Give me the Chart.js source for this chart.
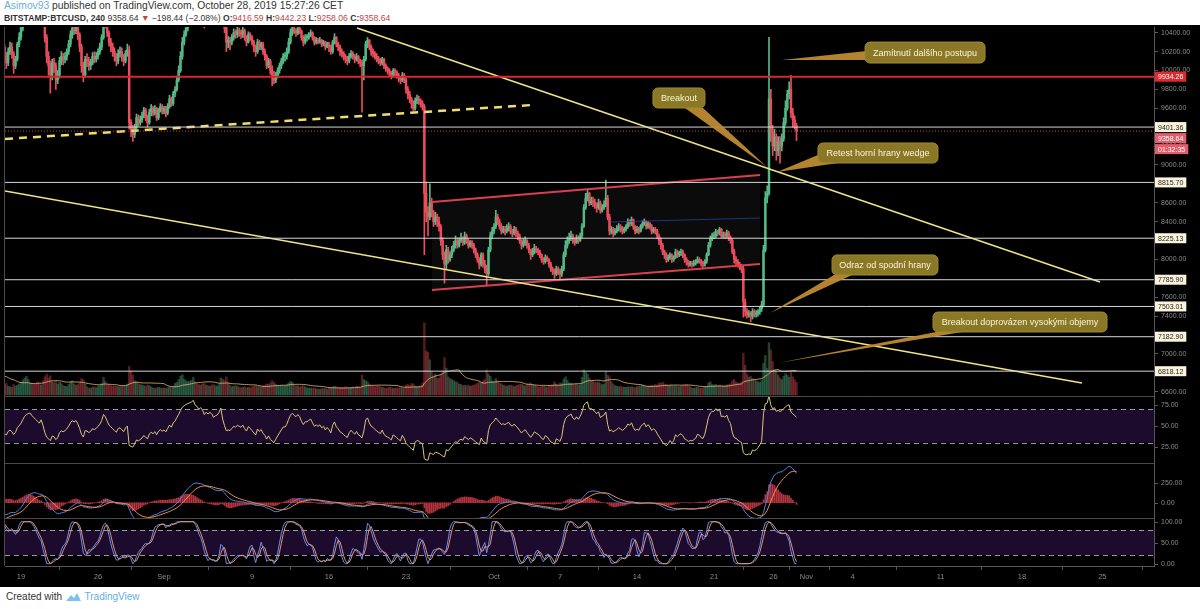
<!DOCTYPE html>
<html>
<head>
<meta charset="utf-8">
<title>BITSTAMP:BTCUSD 240</title>
<script src="https://cdn.jsdelivr.net/npm/chart.js@4.4.0/dist/chart.umd.min.js"></script>
<style>
  html, body { margin: 0; padding: 0; background: #fff; }
  body { width: 1200px; height: 609px; position: relative; overflow: hidden; font-family: "Liberation Sans", Arial, sans-serif; }
  #hdr { position: absolute; left: 4px; top: 0px; color: #333; white-space: nowrap; }
  #hdr .l1 { font-size: 10.3px; line-height: 12px; }
  #hdr .l2 { font-size: 8.6px; line-height: 12px; }
  #hdr .user { color: #6aaee0; }
  #hdr .red { color: #c0463f; }
  #wrap { position: absolute; left: 0; top: 25px; width: 1200px; height: 562px; }
  #ftr { position: absolute; left: 6px; top: 591px; font-size: 10px; color: #333; white-space: nowrap; }
  #ftr .tv { color: #5fb0e6; }
  #ftr svg { vertical-align: -2px; }
</style>
</head>
<body>
<div id="hdr">
  <div class="l1"><span class="user">Asimov93</span> published on TradingView.com, October 28, 2019 15:27:26 CET</div>
  <div class="l2"><b>BITSTAMP:BTCUSD, 240</b> 9358.64 <span class="red">&#9660;</span> &minus;198.44 (&minus;2.08%) <b>O:</b><span class="red">9416.59</span> <b>H:</b><span class="red">9442.23</span> <b>L:</b><span class="red">9258.06</span> <b>C:</b><span class="red">9358.64</span></div>
</div>
<div id="wrap"><canvas id="chart" width="1200" height="562"></canvas></div>
<div id="ftr">Created with <svg width="17" height="10" viewBox="0 0 17 10"><path d="M1 9 L6 3 L9 6 L12 1 L16 9 Z" fill="#7cc4ee"/></svg> <span class="tv">TradingView</span></div>

<script>
// 4h candles, first one opens Aug 12 2019 00:00 UTC (day 11 counted from Aug 1)
const startDay = 11;
const firstOpen = 11350;

const closes = [
  11380, 11420, 11350, 11300, 11330, 11390, // Aug 12
  11250, 11100, 10980, 10850, 10900, 10780,
  10700, 10620, 10500, 10300, 10150, 10050,
  10100, 9900, 9650, 9950, 10150, 10300,
  10200, 10050, 9900, 10250, 10400, 10350,
  10300, 10380, 10250, 10150, 10080, 10200, // Aug 17
  10250, 10180, 10050, 10120, 10280, 10350,
  10450, 10600, 10750, 10850, 10900, 10920,
  10850, 10800, 10750, 10700, 10650, 10760,
  10600, 10350, 10150, 10050, 9950, 10080,
  10050, 9900, 9950, 10100, 10150, 10120, // Aug 22
  10150, 10200, 10280, 10380, 10450, 10420,
  10460, 10380, 10250, 10050, 9950, 10120,
  10100, 10050, 10080, 10150, 10120, 10150,
  10200, 10250, 10350, 10550, 10500, 10400,
  10300, 10250, 10200, 10150, 10100, 10180, // Aug 27
  10200, 10150, 10100, 10180, 10220, 9450,
  9380, 9320, 9400, 9500, 9450, 9480,
  9520, 9580, 9500, 9450, 9560, 9600,
  9550, 9600, 9500, 9580, 9620, 9570,
  9600, 9550, 9620, 9700, 9650, 9750, // Sep 1
  9800, 9900, 10000, 10150, 10300, 10380,
  10450, 10500, 10550, 10600, 10700, 10620,
  10600, 10550, 10620, 10580, 10500, 10580,
  10550, 10600, 10580, 10520, 10560, 10580,
  10650, 10800, 10600, 10450, 10300, 10320, // Sep 6
  10300, 10350, 10400, 10380, 10420, 10400,
  10380, 10420, 10350, 10300, 10380, 10350,
  10300, 10250, 10200, 10300, 10250, 10280,
  10200, 10150, 10050, 10100, 10000, 9950,
  9900, 9950, 10000, 10050, 10100, 10150, // Sep 11
  10150, 10200, 10300, 10400, 10450, 10420,
  10400, 10450, 10420, 10350, 10300, 10350,
  10350, 10380, 10400, 10350, 10300, 10320,
  10300, 10320, 10280, 10300, 10250, 10280,
  10250, 10200, 10300, 10350, 10280, 10250, // Sep 16
  10200, 10180, 10150, 10120, 10100, 10150,
  10180, 10150, 10120, 10150, 10100, 10080,
  10050, 10120, 10280, 10320, 10250, 10200,
  10180, 10150, 10120, 10100, 10080, 10120,
  10050, 10020, 10000, 9980, 9950, 10000, // Sep 21
  9980, 9950, 9920, 9900, 9950, 9900,
  9800, 9750, 9700, 9650, 9600, 9680,
  9700, 9680, 9650, 9620, 8700, 8500,
  8450, 8600, 8500, 8400, 8450, 8400,
  8350, 8200, 8050, 7950, 8100, 8000, // Sep 26
  8050, 8100, 8150, 8200, 8150, 8200,
  8220, 8180, 8250, 8200, 8150, 8180,
  8150, 8100, 8050, 8000, 7950, 8050,
  7950, 7900, 7850, 8100, 8250, 8300,
  8350, 8450, 8400, 8350, 8300, 8320, // Oct 1
  8300, 8330, 8350, 8300, 8280, 8320,
  8280, 8250, 8200, 8150, 8180, 8200,
  8150, 8100, 8050, 8080, 8120, 8100,
  8080, 8050, 8000, 7980, 8020, 8000,
  7950, 7900, 7880, 7850, 7900, 7880, // Oct 6
  7850, 7900, 8050, 8150, 8200, 8220,
  8250, 8200, 8180, 8230, 8200, 8250,
  8350, 8550, 8650, 8700, 8600, 8620,
  8600, 8580, 8550, 8600, 8520, 8550,
  8580, 8650, 8450, 8300, 8320, 8280, // Oct 11
  8300, 8320, 8350, 8330, 8300, 8320,
  8350, 8400, 8380, 8420, 8350, 8300,
  8320, 8300, 8350, 8380, 8400, 8350,
  8380, 8350, 8300, 8320, 8300, 8250,
  8200, 8150, 8080, 8050, 8000, 8020, // Oct 16
  8050, 8000, 8020, 8080, 8050, 8070,
  8080, 8050, 8000, 7980, 7950, 7960,
  7950, 7960, 7970, 8000, 7990, 7960,
  7950, 7980, 8050, 8150, 8220, 8250,
  8250, 8300, 8280, 8320, 8250, 8260, // Oct 21
  8250, 8280, 8230, 8200, 8080, 8000,
  7980, 7950, 7920, 7900, 7550, 7450,
  7420, 7430, 7400, 7450, 7420, 7430,
  7450, 7480, 7520, 8100, 8650, 8700,
  9700, 9350, 9200, 9300, 9150, 9250, // Oct 26
  9200, 9280, 9450, 9600, 9750, 9800,
  9550, 9480, 9416.59, 9358.64
];

const highs = [
  11420, 11470, 11440, 11380, 11370, 11430,
  11410, 11280, 11130, 11010, 10950, 10930,
  10820, 10740, 10660, 10530, 10330, 10180,
  10150, 10120, 9930, 9990, 10200, 10350,
  10360, 10230, 10080, 10290, 10460, 10450,
  10400, 10420, 10410, 10280, 10190, 10240,
  10300, 10290, 10200, 10150, 10300, 10400,
  10480, 10650, 10800, 10950, 10960, 10960,
  10960, 10900, 10850, 10790, 10740, 10800,
  10780, 10620, 10380, 10200, 10100, 10120,
  10130, 10080, 10000, 10140, 10200, 10180,
  10190, 10230, 10320, 10420, 10490, 10480,
  10510, 10490, 10400, 10280, 10090, 10150,
  10180, 10140, 10120, 10190, 10200, 10190,
  10230, 10290, 10380, 10620, 10600, 10540,
  10420, 10340, 10290, 10240, 10180, 10220,
  10250, 10240, 10170, 10210, 10280, 10260,
  9480, 9420, 9430, 9540, 9530, 9520,
  9560, 9610, 9600, 9530, 9590, 9640,
  9620, 9630, 9610, 9600, 9650, 9640,
  9620, 9620, 9650, 9740, 9720, 9780,
  9830, 9940, 10050, 10200, 10350, 10420,
  10480, 10540, 10600, 10650, 10780, 10730,
  10680, 10640, 10650, 10640, 10600, 10600,
  10610, 10630, 10620, 10590, 10600, 10610,
  10690, 10900, 10820, 10640, 10480, 10360,
  10350, 10380, 10440, 10430, 10460, 10450,
  10430, 10460, 10440, 10370, 10410, 10400,
  10370, 10320, 10270, 10330, 10320, 10300,
  10300, 10230, 10170, 10130, 10120, 10050,
  9990, 9980, 10030, 10080, 10130, 10180,
  10190, 10240, 10340, 10440, 10480, 10470,
  10440, 10480, 10470, 10430, 10370, 10380,
  10380, 10400, 10430, 10410, 10360, 10350,
  10340, 10350, 10330, 10320, 10310, 10300,
  10300, 10270, 10320, 10390, 10360, 10300,
  10270, 10230, 10200, 10170, 10150, 10180,
  10210, 10200, 10170, 10180, 10160, 10120,
  10110, 10150, 10310, 10350, 10330, 10270,
  10230, 10200, 10180, 10150, 10130, 10140,
  10130, 10070, 10040, 10020, 9990, 10020,
  10020, 10000, 9970, 9940, 9980, 9970,
  9920, 9830, 9780, 9720, 9680, 9710,
  9740, 9730, 9700, 9680, 9640, 8820,
  8560, 8800, 8650, 8520, 8500, 8480,
  8450, 8370, 8230, 8080, 8150, 8130,
  8080, 8140, 8190, 8250, 8230, 8230,
  8280, 8240, 8290, 8270, 8220, 8200,
  8200, 8170, 8120, 8070, 8020, 8070,
  8070, 7990, 7940, 8130, 8290, 8340,
  8380, 8520, 8480, 8430, 8380, 8350,
  8350, 8370, 8390, 8370, 8320, 8350,
  8340, 8300, 8270, 8210, 8220, 8240,
  8210, 8170, 8110, 8120, 8160, 8140,
  8120, 8100, 8060, 8020, 8050, 8040,
  8010, 7970, 7920, 7900, 7930, 7920,
  7900, 7930, 8080, 8200, 8240, 8280,
  8300, 8270, 8230, 8260, 8250, 8280,
  8380, 8580, 8700, 8740, 8710, 8660,
  8660, 8640, 8600, 8640, 8620, 8580,
  8620, 8840, 8680, 8480, 8350, 8340,
  8330, 8360, 8380, 8370, 8350, 8340,
  8370, 8430, 8420, 8450, 8430, 8360,
  8350, 8340, 8370, 8410, 8430, 8410,
  8400, 8390, 8370, 8340, 8340, 8320,
  8270, 8230, 8170, 8100, 8070, 8050,
  8070, 8060, 8040, 8110, 8100, 8090,
  8110, 8100, 8060, 8020, 7990, 7980,
  7980, 7990, 8000, 8030, 8020, 8000,
  7980, 8000, 8070, 8180, 8250, 8280,
  8290, 8320, 8310, 8340, 8330, 8290,
  8290, 8310, 8300, 8250, 8220, 8110,
  8030, 8000, 7970, 7950, 7930, 7580,
  7480, 7460, 7450, 7480, 7470, 7460,
  7470, 7500, 7560, 8150, 8720, 8780,
  10350, 9800, 9420, 9380, 9330, 9300,
  9300, 9330, 9500, 9680, 9790, 9880,
  9950, 9600, 9520, 9442.23
];

const lows = [
  11320, 11350, 11320, 11260, 11270, 11310,
  11220, 11060, 10940, 10800, 10820, 10740,
  10660, 10580, 10460, 10250, 10100, 9980,
  9990, 9850, 9480, 9620, 9920, 10120,
  10160, 10000, 9800, 9880, 10220, 10300,
  10260, 10280, 10220, 10100, 10020, 10050,
  10170, 10130, 9970, 10020, 10100, 10250,
  10320, 10420, 10570, 10700, 10800, 10850,
  10800, 10740, 10680, 10630, 10580, 10620,
  10560, 10300, 10080, 9950, 9760, 9900,
  9980, 9800, 9860, 9920, 10060, 10060,
  10080, 10110, 10170, 10250, 10340, 10380,
  10390, 10330, 10200, 9980, 9880, 9930,
  10040, 10000, 10010, 10060, 10080, 10090,
  10120, 10170, 10220, 10330, 10450, 10360,
  10260, 10200, 10150, 10100, 10050, 10070,
  10140, 10100, 10050, 10080, 10150, 9380,
  9300, 9250, 9290, 9380, 9410, 9420,
  9450, 9500, 9470, 9400, 9430, 9520,
  9520, 9530, 9470, 9480, 9560, 9540,
  9540, 9510, 9530, 9600, 9620, 9630,
  9720, 9780, 9880, 9980, 10120, 10270,
  10360, 10420, 10470, 10510, 10570, 10580,
  10560, 10490, 10520, 10540, 10450, 10470,
  10500, 10530, 10540, 10470, 10500, 10520,
  10560, 10620, 10560, 10400, 10200, 10240,
  10220, 10270, 10320, 10340, 10350, 10360,
  10340, 10350, 10320, 10260, 10290, 10320,
  10270, 10200, 10150, 10180, 10220, 10220,
  10170, 10110, 10020, 10030, 9960, 9840,
  9860, 9870, 9920, 9970, 10020, 10070,
  10100, 10120, 10180, 10280, 10370, 10390,
  10360, 10380, 10390, 10320, 10260, 10280,
  10310, 10330, 10360, 10320, 10270, 10280,
  10280, 10290, 10250, 10260, 10220, 10240,
  10200, 10170, 10180, 10280, 10250, 10210,
  10160, 10140, 10110, 10080, 10060, 10080,
  10130, 10120, 10080, 10100, 10070, 10040,
  9560, 9900, 10100, 10240, 10220, 10160,
  10140, 10120, 10090, 10070, 10050, 10060,
  10020, 9990, 9960, 9940, 9910, 9930,
  9940, 9920, 9880, 9860, 9880, 9870,
  9760, 9700, 9660, 9600, 9570, 9580,
  9650, 9640, 9610, 9580, 8050, 8400,
  8250, 8420, 8450, 8350, 8370, 8350,
  8300, 8150, 8000, 7750, 7900, 7960,
  7980, 8020, 8080, 8120, 8120, 8130,
  8180, 8150, 8160, 8170, 8120, 8130,
  8120, 8070, 8020, 7970, 7900, 7930,
  7920, 7860, 7730, 7830, 8080, 8220,
  8270, 8330, 8370, 8320, 8270, 8280,
  8260, 8280, 8300, 8270, 8240, 8260,
  8240, 8210, 8170, 8110, 8130, 8150,
  8120, 8070, 8000, 8030, 8060, 8070,
  8050, 8020, 7970, 7950, 7960, 7980,
  7920, 7870, 7840, 7800, 7830, 7840,
  7790, 7820, 7880, 8030, 8120, 8170,
  8200, 8170, 8150, 8170, 8170, 8190,
  8230, 8340, 8530, 8620, 8570, 8580,
  8560, 8540, 8500, 8530, 8490, 8500,
  8530, 8560, 8420, 8260, 8270, 8240,
  8260, 8280, 8300, 8290, 8270, 8280,
  8300, 8330, 8350, 8360, 8320, 8270,
  8280, 8270, 8290, 8330, 8360, 8320,
  8330, 8320, 8270, 8280, 8270, 8220,
  8160, 8110, 8050, 8010, 7970, 7980,
  8000, 7970, 7980, 8010, 8020, 8030,
  8040, 8020, 7970, 7940, 7920, 7930,
  7920, 7930, 7940, 7960, 7960, 7930,
  7900, 7930, 7960, 8040, 8130, 8200,
  8220, 8230, 8250, 8260, 8230, 8230,
  8220, 8230, 8200, 8170, 8060, 7960,
  7940, 7920, 7890, 7860, 7390, 7400,
  7380, 7390, 7340, 7370, 7390, 7390,
  7400, 7420, 7450, 7500, 8080, 8600,
  8680, 9250, 9100, 9150, 9050, 9100,
  9020, 9150, 9250, 9420, 9580, 9700,
  9500, 9400, 9380, 9258.06
];

// volume per 4h bar, BTC
const volumes = [
  2100, 1800, 1600, 2200, 2400, 1900,
  2300, 2600, 2800, 3100, 2400, 2200,
  2500, 2700, 3200, 4800, 5200, 4100,
  3500, 4200, 5600, 4400, 3600, 3100,
  3300, 2900, 3800, 3400, 3000, 2400,
  2000, 1700, 1500, 1900, 2100, 1600,
  1500, 1400, 1900, 1600, 1800, 2000,
  2300, 2700, 3100, 3400, 2800, 2200,
  2100, 1900, 2000, 2400, 2200, 1800,
  2600, 3300, 3800, 3100, 3500, 2400,
  2200, 2500, 2000, 2300, 2100, 1700,
  1600, 1500, 1900, 2400, 2600, 2000,
  1800, 1900, 2300, 3000, 2800, 2000,
  1500, 1300, 1200, 1400, 1500, 1300,
  1600, 1700, 2100, 3200, 2500, 1900,
  1800, 1700, 1600, 1700, 1600, 1500,
  1500, 1600, 1700, 1600, 2000, 5200,
  4300, 3600, 2600, 2400, 2100, 1900,
  1800, 1700, 1600, 1800, 1700, 1500,
  1300, 1200, 1300, 1400, 1300, 1200,
  1300, 1200, 1300, 1500, 1400, 1600,
  2100, 2300, 2800, 3400, 3700, 2900,
  2600, 2400, 2500, 2700, 3200, 2400,
  2000, 1900, 1800, 2000, 2100, 1800,
  1700, 1600, 1800, 1900, 1700, 1600,
  1900, 3100, 2900, 2600, 3300, 2200,
  1800, 1500, 1600, 1700, 1600, 1400,
  1300, 1400, 1500, 1300, 1400, 1300,
  1500, 1600, 1700, 1500, 1600, 1400,
  1700, 1800, 2000, 1900, 2200, 2600,
  2300, 1900, 1800, 1700, 1800, 1600,
  1700, 1800, 2200, 2500, 2300, 1800,
  1600, 1700, 1500, 1600, 1700, 1500,
  1300, 1200, 1300, 1200, 1300, 1100,
  1100, 1000, 1200, 1100, 1200, 1000,
  1300, 1400, 1500, 1600, 1500, 1300,
  1400, 1300, 1400, 1500, 1400, 1300,
  1400, 1500, 1400, 1600, 1500, 1400,
  3600, 2800, 2600, 2400, 2000, 1700,
  1600, 1500, 1600, 1700, 1500, 1400,
  1300, 1200, 1300, 1400, 1300, 1200,
  1200, 1300, 1200, 1400, 1300, 1200,
  1800, 1900, 1700, 2100, 2000, 1600,
  1500, 1600, 1700, 2200, 13100, 8000,
  7800, 6400, 4200, 3500, 3800, 3000,
  3100, 3600, 4400, 6800, 4900, 3300,
  3000, 2800, 2600, 2400, 2300, 2000,
  1900, 1700, 1800, 1700, 1800, 1600,
  1700, 1800, 1900, 2100, 2400, 2200,
  2600, 2800, 4600, 3800, 3400, 2600,
  2400, 3000, 2600, 2200, 2000, 1800,
  1700, 1600, 1700, 1800, 1700, 1500,
  1700, 1800, 1900, 2000, 1800, 1600,
  1900, 2000, 2200, 1900, 1800, 1600,
  1500, 1400, 1600, 1700, 1500, 1400,
  1600, 1700, 1900, 2400, 2000, 1800,
  2200, 2100, 2900, 3300, 2700, 2200,
  2100, 2000, 1900, 2000, 1800, 1900,
  3200, 4600, 4200, 3800, 3100, 2600,
  2500, 2300, 2200, 2400, 2100, 1900,
  2000, 4200, 3600, 3300, 2400, 2000,
  1700, 1600, 1500, 1600, 1500, 1400,
  1400, 1500, 1400, 1500, 1400, 1300,
  1500, 1600, 1700, 1800, 1700, 1500,
  1600, 1700, 1800, 1700, 1900, 1800,
  2200, 2100, 2300, 2000, 1900, 1700,
  1800, 1700, 1600, 1700, 1600, 1500,
  1600, 1700, 1800, 1900, 1700, 1500,
  1300, 1200, 1300, 1400, 1300, 1200,
  1300, 1400, 1600, 2200, 2400, 1900,
  1800, 1900, 1700, 1800, 1700, 1600,
  1700, 1800, 1900, 2000, 2600, 2800,
  2300, 2200, 2100, 2400, 7600, 5400,
  3800, 3200, 3400, 3000, 2800, 2600,
  2400, 2300, 2600, 5800, 7200, 4800,
  9500, 8200, 6100, 4600, 4200, 3600,
  3100, 2800, 3400, 3900, 3600, 3200,
  4100, 3300, 2800, 2300
];

// x axis labels (day counted from Aug 1) and price axis ticks
const xTickDays = [18, 25, 31, 39, 46, 53, 61, 67, 74, 81, 86.4, 89.4, 93.6, 101.6, 109, 116.3];
const xTickLabels = ['19', '26', 'Sep', '9', '16', '23', 'Oct', '7', '14', '21', '26', 'Nov', '4', '11', '18', '25'];
const priceTicks = [10400, 10200, 10000, 9800, 9600, 9400, 9200, 9000, 8800, 8600, 8400, 8200, 8000, 7800, 7600, 7400, 7200, 7000, 6800, 6600];
const rsiTicks = [75, 50, 25];
const macdTicks = [250, 0];
const stochTicks = [100, 50, 0];

// drawings: horizontal levels and trend lines (day, price)
const resistanceLevel = 9934.26;
const levels = [9401.36, 8815.70, 8225.13, 7785.90, 7503.01, 7182.90, 6818.12];
const wedgeTop = [[48.55, 10450], [116.09, 7762]];
const wedgeBottom = [[16.545, 8725], [114.45, 6693]];
const dashedSupport = [[16.545, 9275], [64.45, 9635]];
const channelTop = [[55.36, 8608], [85.18, 8894]];
const channelBottom = [[55.36, 7677], [85.18, 7952]];
const channelMid = [[71.55, 8397], [85.18, 8439]];

const callouts = [
  { text: 'Zamítnutí dalšího postupu', box: [94.73, 10301, 105.64, 10079], tip: [87.18, 10111], base: [[95.73, 10217], [95.73, 10111]] },
  { text: 'Breakout', box: [75.45, 9815, 80.18, 9603], tip: [85.82, 8979], base: [[78.36, 9603], [80.0, 9603]] },
  { text: 'Retest horní hrany wedge', box: [90.45, 9233, 101.36, 9021], tip: [86.73, 8926], base: [[90.45, 9106], [92.27, 9021]] },
  { text: 'Odraz od spodní hrany', box: [91.73, 8048, 101.36, 7836], tip: [86.09, 7434], base: [[91.91, 7836], [93.55, 7836]] },
  { text: 'Breakout doprovázen vysokými objemy', box: [100.91, 7444, 116.73, 7233], tip: [86.82, 6905], base: [[101.18, 7233], [103.55, 7233]] }
];

const axisBadges = [
  { value: 9934.26, text: '9934.26', bg: '#e0282e', fg: '#fff', dy: 0 },
  { value: 9401.36, text: '9401.36', bg: '#fbf3dc', fg: '#222', dy: 0 },
  { value: 9358.64, text: '9358.64', bg: '#e35d6a', fg: '#fff', dy: 7 },
  { value: 9358.64, text: '01:32:35', bg: '#e35d6a', fg: '#fff', dy: 18 },
  { value: 8815.70, text: '8815.70', bg: '#fbf3dc', fg: '#222', dy: 0 },
  { value: 8225.13, text: '8225.13', bg: '#fbf3dc', fg: '#222', dy: 0 },
  { value: 7785.90, text: '7785.90', bg: '#fbf3dc', fg: '#222', dy: 0 },
  { value: 7503.01, text: '7503.01', bg: '#fbf3dc', fg: '#222', dy: 0 },
  { value: 7182.90, text: '7182.90', bg: '#fbf3dc', fg: '#222', dy: 0 },
  { value: 6818.12, text: '6818.12', bg: '#fbf3dc', fg: '#222', dy: 0 }
];

// Colors
const UP = '#53b987';
const DOWN = '#eb4d5c';
const YELLOW = '#efe486';

// Indicators
function ema(src, len) {
  const k = 2 / (len + 1);
  let prev = src[0];
  return src.map((v, i) => (prev = i === 0 ? v : v * k + prev * (1 - k)));
}

function sma(src, len) {
  return src.map((v, i) => {
    if (i < len - 1) return null;
    let s = 0;
    for (let j = i - len + 1; j <= i; j++) {
      if (src[j] === null) return null;
      s += src[j];
    }
    return s / len;
  });
}

function rsiOf(src, len) {
  const out = src.map(() => null);
  let g = 0, l = 0;
  for (let i = 1; i < src.length; i++) {
    const ch = src[i] - src[i - 1];
    const up = Math.max(ch, 0), dn = Math.max(-ch, 0);
    if (i <= len) { g += up / len; l += dn / len; }
    else { g = (g * (len - 1) + up) / len; l = (l * (len - 1) + dn) / len; }
    if (i >= len) out[i] = l === 0 ? 100 : 100 - 100 / (1 + g / l);
  }
  return out;
}

function stochOf(src, len) {
  return src.map((v, i) => {
    if (v === null || i < len - 1) return null;
    const win = src.slice(i - len + 1, i + 1);
    if (win.some(w => w === null)) return null;
    const lo = Math.min(...win), hi = Math.max(...win);
    return hi === lo ? 50 : (v - lo) / (hi - lo) * 100;
  });
}

const opens = closes.map((c, i) => (i === 0 ? firstOpen : closes[i - 1]));
const days = closes.map((c, i) => startDay + i / 6);
const candleColors = closes.map((c, i) => (c >= opens[i] ? UP : DOWN));
const volColors = closes.map((c, i) => (c >= opens[i] ? 'rgba(83,185,135,0.36)' : 'rgba(235,77,92,0.36)'));

const rsi = rsiOf(closes, 14);
const ema12 = ema(closes, 12), ema26 = ema(closes, 26);
const macd = closes.map((c, i) => ema12[i] - ema26[i]);
const signal = ema(macd, 9);
const hist = macd.map((m, i) => m - signal[i]);
const stochK = sma(stochOf(rsi, 14), 3);
const stochD = sma(stochK, 3);
const volMA = sma(volumes, 20);

const pts = arr => days.map((d, i) => ({ x: d, y: arr[i] }));
const seg = p => p.map(([x, y]) => ({ x, y }));

// Panel clips (chart area runs 2..541 on the canvas)
const mainClip = { left: 0, right: 0, top: 0, bottom: -170 };
const rsiClip = { left: 0, right: 0, top: -370, bottom: -103 };
const macdClip = { left: 0, right: 0, top: -436, bottom: -48 };
const stochClip = { left: 0, right: 0, top: -491, bottom: 0 };

const X_MIN = 16.545, X_MAX = 121.0;

function lineDs(data, color, width, extra) {
  return Object.assign({
    type: 'line', data, borderColor: color, borderWidth: width, pointRadius: 0,
    tension: 0, yAxisID: 'y', order: 0, clip: mainClip
  }, extra || {});
}

const datasets = [
  { type: 'bar', data: days.map((d, i) => ({ x: d, y: volumes[i] })), backgroundColor: volColors,
    barThickness: 1.8, grouped: false, yAxisID: 'vol', order: 8, clip: mainClip },
  lineDs(pts(volMA), 'rgba(214,170,110,0.85)', 1, { yAxisID: 'vol', order: 7 }),
  { type: 'bar', data: days.map((d, i) => ({ x: d, y: [lows[i], highs[i]] })), backgroundColor: candleColors,
    barThickness: 1, grouped: false, yAxisID: 'y', order: 6, clip: mainClip },
  { type: 'bar', data: days.map((d, i) => ({ x: d, y: [opens[i], closes[i]] })), backgroundColor: candleColors,
    barThickness: 1.8, minBarLength: 1, grouped: false, yAxisID: 'y', order: 5, clip: mainClip },

  lineDs(pts(rsi), '#d9c47c', 1, { yAxisID: 'rsi', order: 1, clip: rsiClip }),

  { type: 'bar', data: days.map((d, i) => ({ x: d, y: hist[i] })), backgroundColor: 'rgba(240,70,85,0.75)',
    barThickness: 1, grouped: false, yAxisID: 'macd', order: 3, clip: macdClip },
  lineDs(pts(macd), '#4b86e6', 1, { yAxisID: 'macd', order: 2, clip: macdClip }),
  lineDs(pts(signal), '#ef8f4f', 1, { yAxisID: 'macd', order: 1, clip: macdClip }),

  lineDs(pts(stochK), 'rgba(110,150,250,0.95)', 1, { yAxisID: 'stoch', order: 2, clip: stochClip }),
  lineDs(pts(stochD), 'rgba(250,160,120,0.9)', 1, { yAxisID: 'stoch', order: 1, clip: stochClip }),

  // drawings
  lineDs(seg([[X_MIN, resistanceLevel], [X_MAX, resistanceLevel]]), '#d8262c', 2),
  ...levels.map(v => lineDs(seg([[X_MIN, v], [X_MAX, v]]), '#d6d6d6', 1)),
  lineDs(seg([[X_MIN, closes[closes.length - 1]], [X_MAX, closes[closes.length - 1]]]), 'rgba(235,77,92,0.8)', 1, { borderDash: [1, 2] }),
  lineDs(seg(wedgeTop), YELLOW, 1.5),
  lineDs(seg(wedgeBottom), YELLOW, 1.5),
  lineDs(seg(dashedSupport), '#f2dc6e', 2.5, { borderDash: [8, 6] }),
  lineDs(seg(channelTop), '#d9404f', 2),
  lineDs(seg(channelBottom), '#d9404f', 2),
  lineDs(seg(channelMid), 'rgba(45,65,170,0.7)', 1)
];

// Panels are stacked on one canvas: each hidden axis gets min/max so its values land in its own band
const panelScale = (min, max) => ({ axis: 'y', position: 'right', display: false, min, max });
const noPad = s => { s.paddingTop = 0; s.paddingBottom = 0; s.paddingLeft = 0; s.paddingRight = 0; };

const panelsPlugin = {
  id: 'panels',
  beforeDraw(chart) {
    const { ctx, width, height } = chart;
    ctx.save();
    ctx.fillStyle = '#000';
    ctx.fillRect(0, 0, width, height);
    ctx.restore();
  },
  beforeDatasetsDraw(chart) {
    const { ctx, chartArea: a, scales } = chart;
    const sx = scales.x, sy = scales.y;
    ctx.save();
    // faint fill inside the channel
    ctx.fillStyle = 'rgba(255,255,255,0.045)';
    ctx.beginPath();
    ctx.moveTo(sx.getPixelForValue(channelTop[0][0]), sy.getPixelForValue(channelTop[0][1]));
    ctx.lineTo(sx.getPixelForValue(channelTop[1][0]), sy.getPixelForValue(channelTop[1][1]));
    ctx.lineTo(sx.getPixelForValue(channelBottom[1][0]), sy.getPixelForValue(channelBottom[1][1]));
    ctx.lineTo(sx.getPixelForValue(channelBottom[0][0]), sy.getPixelForValue(channelBottom[0][1]));
    ctx.closePath();
    ctx.fill();

    // oscillator bands
    const band = (scale, hi, lo) => {
      const y1 = scales[scale].getPixelForValue(hi), y2 = scales[scale].getPixelForValue(lo);
      ctx.fillStyle = 'rgba(115,45,190,0.24)';
      ctx.fillRect(a.left, y1, a.right - a.left, y2 - y1);
      ctx.strokeStyle = 'rgba(200,200,210,0.75)';
      ctx.lineWidth = 1;
      ctx.setLineDash([5, 4]);
      [y1, y2].forEach(y => {
        ctx.beginPath();
        ctx.moveTo(a.left, Math.round(y) + 0.5);
        ctx.lineTo(a.right, Math.round(y) + 0.5);
        ctx.stroke();
      });
      ctx.setLineDash([]);
    };
    band('rsi', 70, 30);
    band('stoch', 80, 20);

    // pane separators
    ctx.strokeStyle = '#4a4a4a';
    ctx.lineWidth = 1;
    [371, 438, 493].forEach(y => {
      ctx.beginPath();
      ctx.moveTo(a.left, y + 0.5);
      ctx.lineTo(a.right, y + 0.5);
      ctx.stroke();
    });
    ctx.beginPath();
    ctx.moveTo(a.left - 0.5, a.top);
    ctx.lineTo(a.left - 0.5, a.bottom);
    ctx.stroke();
    ctx.restore();
  },
  afterDatasetsDraw(chart) {
    const { ctx, scales } = chart;
    const sx = scales.x, sy = scales.y;
    const P = ([d, p]) => [sx.getPixelForValue(d), sy.getPixelForValue(p)];
    ctx.save();
    callouts.forEach(c => {
      const [l, t] = P([c.box[0], c.box[1]]);
      const [r, b] = P([c.box[2], c.box[3]]);
      const [tx, ty] = P(c.tip);
      const [b0x, b0y] = P(c.base[0]);
      const [b1x, b1y] = P(c.base[1]);
      ctx.fillStyle = 'rgba(190,138,50,0.95)';
      ctx.beginPath();
      ctx.moveTo(b0x, b0y);
      ctx.lineTo(b1x, b1y);
      ctx.lineTo(tx, ty);
      ctx.closePath();
      ctx.fill();
      ctx.fillStyle = '#8a7826';
      ctx.strokeStyle = '#a08a30';
      ctx.lineWidth = 1;
      ctx.beginPath();
      ctx.roundRect(l, t, r - l, b - t, 5);
      ctx.fill();
      ctx.stroke();
      ctx.fillStyle = '#fbf4d8';
      ctx.font = "9px 'Liberation Sans', Arial, sans-serif";
      ctx.textAlign = 'center';
      ctx.textBaseline = 'middle';
      ctx.fillText(c.text, (l + r) / 2, (t + b) / 2 + 0.5);
    });
    ctx.restore();
  },
  afterDraw(chart) {
    const { ctx, chartArea: a, scales } = chart;
    ctx.save();
    ctx.font = "7px 'Liberation Sans', Arial, sans-serif";
    ctx.textBaseline = 'middle';
    ctx.textAlign = 'left';
    // oscillator axis labels
    [['rsi', rsiTicks], ['macd', macdTicks], ['stoch', stochTicks]].forEach(([id, vals]) => {
      vals.forEach(v => {
        const y = scales[id].getPixelForValue(v);
        ctx.strokeStyle = '#555';
        ctx.beginPath();
        ctx.moveTo(a.right, Math.round(y) + 0.5);
        ctx.lineTo(a.right + 4, Math.round(y) + 0.5);
        ctx.stroke();
        ctx.fillStyle = '#8a8a8a';
        ctx.fillText(v.toFixed(2), a.right + 7, y);
      });
    });
    // price badges on the axis
    axisBadges.forEach(bd => {
      const y = scales.y.getPixelForValue(bd.value) + bd.dy;
      const w = ctx.measureText(bd.text).width + 6;
      ctx.fillStyle = bd.bg;
      ctx.fillRect(a.right + 1, y - 5, w, 10);
      ctx.fillStyle = bd.fg;
      ctx.fillText(bd.text, a.right + 4, y + 0.5);
    });
    ctx.restore();
  }
};

Chart.defaults.font.family = "'Liberation Sans', Arial, sans-serif";

new Chart(document.getElementById('chart'), {
  type: 'bar',
  data: { datasets },
  options: {
    animation: false,
    responsive: false,
    events: [],
    layout: { padding: { left: 5, top: 2, right: 0, bottom: 0 } },
    plugins: { legend: { display: false }, tooltip: { enabled: false } },
    scales: {
      x: {
        type: 'linear', min: X_MIN, max: X_MAX, offset: false,
        grid: { drawOnChartArea: false, color: '#555', tickLength: 4 },
        border: { color: '#555' },
        ticks: { color: '#8a8a8a', font: { size: 7.5 }, padding: 2, maxRotation: 0, autoSkip: false,
          callback: (v, i) => xTickLabels[i] },
        afterBuildTicks: s => { s.ticks = xTickDays.map(v => ({ value: v })); },
        afterFit: s => { s.height = 21; noPad(s); }
      },
      y: {
        position: 'right', min: 4756.6, max: 10460.3,
        grid: { drawOnChartArea: false, color: '#555', tickLength: 4 },
        border: { color: '#555' },
        ticks: { color: '#8a8a8a', font: { size: 7 }, padding: 3, callback: v => v.toFixed(2) },
        afterBuildTicks: s => { s.ticks = priceTicks.map(v => ({ value: v })); },
        afterFit: s => { s.width = 46; noPad(s); }
      },
      vol: panelScale(-31091, 66909),
      rsi: panelScale(-119.1, 531.9),
      macd: panelScale(-791, 5946),
      stoch: panelScale(-5.5, 1277.9)
    }
  },
  plugins: [panelsPlugin]
});
</script>
</body>
</html>
